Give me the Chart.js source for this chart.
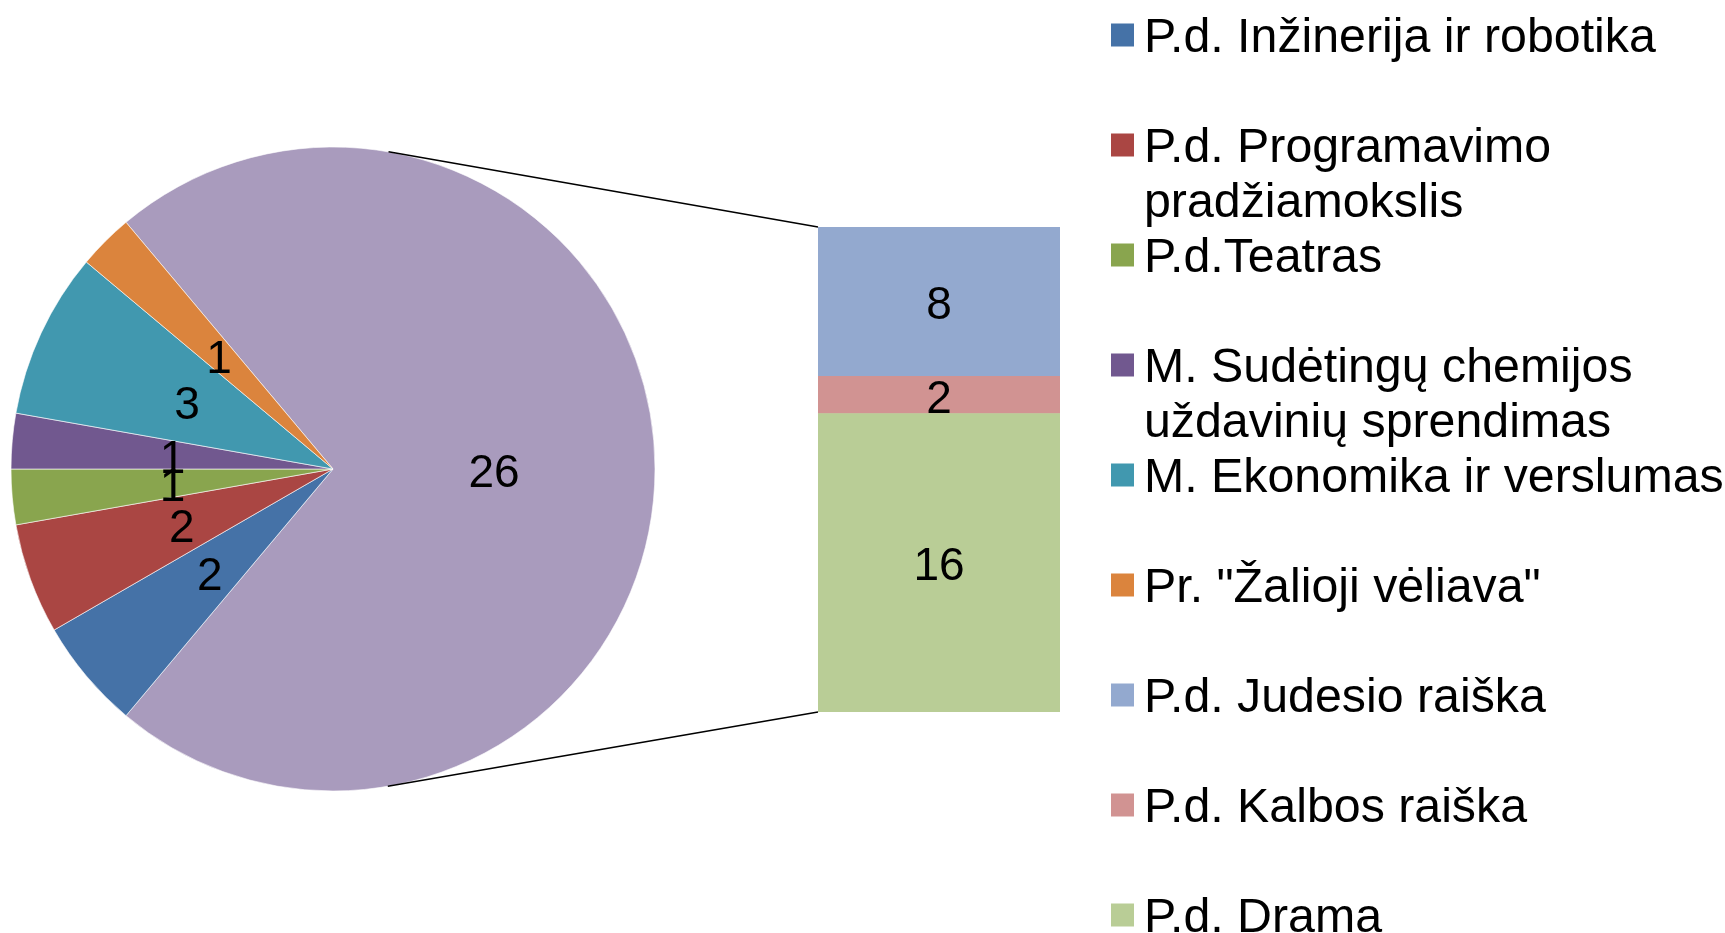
<!DOCTYPE html>
<html>
<head>
<meta charset="utf-8">
<script src="https://cdn.jsdelivr.net/npm/chart.js@4"></script>
<style>
  body { margin: 0; background: #fff; }
  #wrap { position: relative; width: 1725px; height: 933px; }
  #wrap canvas { position: absolute; left: 0; top: 0; }
</style>
</head>
<body>
<div id="wrap">
  <canvas id="pieChart" width="1725" height="933"></canvas>
  <canvas id="barChart" width="1725" height="933"></canvas>
</div>
<script>
// pie slices (the "other" slice is the sum of the bar)
const pieLabels = ['P.d. Inžinerija ir robotika', 'P.d. Programavimo pradžiamokslis', 'P.d.Teatras',
  'M. Sudėtingų chemijos uždavinių sprendimas', 'M. Ekonomika ir verslumas', 'Pr. "Žalioji vėliava"'];
const pieValues = [2, 2, 1, 1, 3, 1];
const pieColors = ['#4572A7', '#AA4643', '#89A54E', '#71588F', '#4198AF', '#DB843D'];

// bar (top to bottom)
const barLabels = ['P.d. Judesio raiška', 'P.d. Kalbos raiška', 'P.d. Drama'];
const barValues = [8, 2, 16];
const barColors = ['#93A9CF', '#D19392', '#B9CD96'];

const otherColor = '#A99BBD';
const otherTotal = barValues.reduce((a, b) => a + b, 0);

const FONT = "'Liberation Sans', Arial, sans-serif";

const pieLabelPlugin = {
  id: 'pieLabels',
  afterDatasetsDraw(chart) {
    const ctx = chart.ctx;
    const meta = chart.getDatasetMeta(0);
    const vals = chart.data.datasets[0].data;
    ctx.save();
    ctx.font = '46px ' + FONT;
    ctx.fillStyle = '#000';
    ctx.textAlign = 'center';
    ctx.textBaseline = 'middle';
    meta.data.forEach((arc, i) => {
      const p = arc.tooltipPosition();
      ctx.fillText(String(vals[i]), p.x, p.y + 5);
    });
    ctx.restore();
  }
};

const pieChart = new Chart(document.getElementById('pieChart'), {
  type: 'pie',
  data: {
    labels: ['Other'].concat(pieLabels),
    datasets: [{
      data: [otherTotal].concat(pieValues),
      backgroundColor: [otherColor].concat(pieColors),
      borderColor: 'rgba(255,255,255,0.6)',
      borderWidth: 1
    }]
  },
  options: {
    responsive: false,
    animation: false,
    rotation: -40,
    layout: { padding: { left: 10.5, top: 146.5, right: 1069.5, bottom: 141.5 } },
    plugins: { legend: { display: false }, tooltip: { enabled: false } },
    events: []
  },
  plugins: [pieLabelPlugin]
});

const barExtrasPlugin = {
  id: 'barExtras',
  afterDraw(chart) {
    const ctx = chart.ctx;
    ctx.save();

    // values inside the stacked bar
    ctx.font = '46px ' + FONT;
    ctx.fillStyle = '#000';
    ctx.textAlign = 'center';
    ctx.textBaseline = 'middle';
    chart.data.datasets.forEach((ds, i) => {
      const bar = chart.getDatasetMeta(i).data[0];
      ctx.fillText(String(ds.data[0]), bar.x, (bar.y + bar.base) / 2 + 5);
    });

    // connector lines: tangent from bar corners to the pie
    const arc = pieChart.getDatasetMeta(0).data[0];
    const cx = arc.x, cy = arc.y, r = arc.outerRadius;
    const area = chart.chartArea;
    const corners = [[area.left, area.top, -1], [area.left, area.bottom, 1]];
    ctx.strokeStyle = '#000';
    ctx.lineWidth = 1.5;
    corners.forEach(([px, py, s]) => {
      const dx = px - cx, dy = py - cy;
      const d = Math.hypot(dx, dy);
      const base = Math.atan2(dy, dx);
      const a = base + s * Math.acos(r / d);
      ctx.beginPath();
      ctx.moveTo(cx + r * Math.cos(a), cy + r * Math.sin(a));
      ctx.lineTo(px, py);
      ctx.stroke();
    });

    // legend
    const items = pieLabels.map((t, i) => [t, pieColors[i]])
      .concat(barLabels.map((t, i) => [t, barColors[i]]));
    const boxX = 1111, textX = 1144, boxSize = 23;
    ctx.font = '48.3px ' + FONT;
    ctx.textAlign = 'left';
    ctx.textBaseline = 'alphabetic';
    items.forEach(([text, color], i) => {
      const rowY = 35 + 110 * i;
      ctx.fillStyle = color;
      ctx.fillRect(boxX, rowY - boxSize / 2, boxSize, boxSize);
      // simple word wrap
      const words = text.split(' ');
      const lines = [];
      let line = '';
      words.forEach(w => {
        const test = line ? line + ' ' + w : w;
        if (line && ctx.measureText(test).width > 600) {
          lines.push(line);
          line = w;
        } else {
          line = test;
        }
      });
      lines.push(line);
      ctx.fillStyle = '#000';
      lines.forEach((l, k) => ctx.fillText(l, textX, rowY + 17 + 55 * k));
    });

    ctx.restore();
  }
};

new Chart(document.getElementById('barChart'), {
  type: 'bar',
  data: {
    labels: [''],
    // stacked bottom to top
    datasets: barLabels.map((t, i) => ({
      label: t,
      data: [barValues[i]],
      backgroundColor: barColors[i],
      borderWidth: 0,
      barPercentage: 1,
      categoryPercentage: 1
    })).reverse()
  },
  options: {
    responsive: false,
    animation: false,
    layout: { padding: { left: 818, top: 227, right: 665, bottom: 221 } },
    scales: {
      x: { display: false, stacked: true },
      y: { display: false, stacked: true, min: 0, max: otherTotal }
    },
    plugins: { legend: { display: false }, tooltip: { enabled: false } },
    events: []
  },
  plugins: [barExtrasPlugin]
});
</script>
</body>
</html>
